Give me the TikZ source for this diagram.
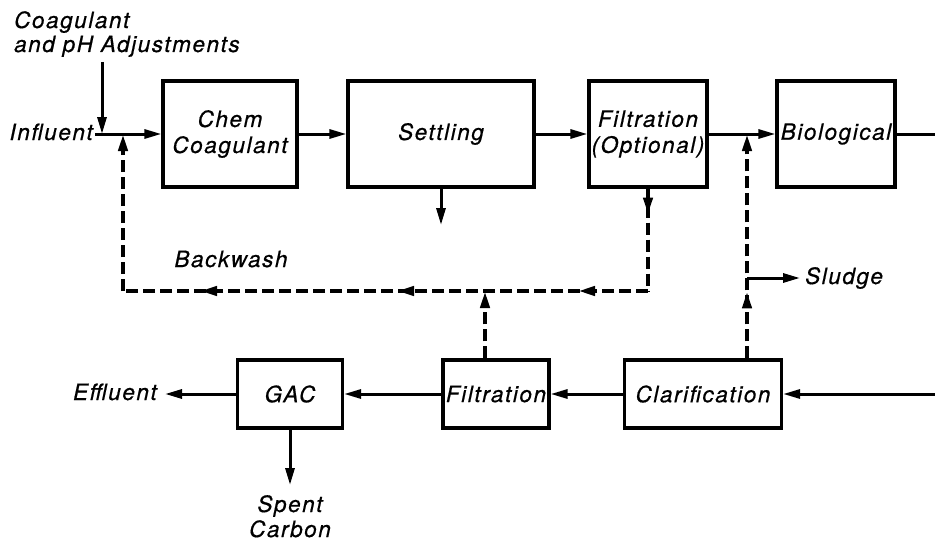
\documentclass[tikz,border=0pt]{standalone}
\usepackage{fontspec}
\setmainfont{TeX Gyre Heros}[LetterSpace=7,ItalicFeatures={FakeBold=0.6}]
\usetikzlibrary{arrows.meta,decorations.markings}
\begin{document}
\begin{tikzpicture}[x=1pt,y=-1pt,
  font=\fontsize{22.5}{26}\selectfont\itshape,
  box/.style={draw,line width=3.2pt,inner sep=0pt,align=center},
  flow/.style={line width=3pt},
  dsh/.style={line width=4pt,dash pattern=on 12pt off 5pt},
  tip/.style={-{Triangle[length=17pt,width=9pt]}},
  marr/.style={postaction={decorate,decoration={markings,mark=at position #1 with {\arrow{Triangle[length=17pt,width=9pt]}}}}},
  lbl/.style={inner sep=0pt}
]
\useasboundingbox (0,0) rectangle (935,543);

% boxes
\node[box,minimum width=134pt,minimum height=106pt] (chem) at (230,134) {Chem\\Coagulant};
\node[box,minimum width=186pt,minimum height=106pt] (settle) at (441,134) {Settling};
\node[box,minimum width=118pt,minimum height=106pt] (filtopt) at (648,134) {Filtration\\(Optional)};
\node[box,minimum width=118pt,minimum height=106pt] (bio) at (836,134) {Biological};
\node[box,minimum width=105pt,minimum height=68pt] (gac) at (290,394) {GAC};
\node[box,minimum width=106pt,minimum height=68pt] (filt) at (496,394) {Filtration};
\node[box,minimum width=157pt,minimum height=68pt] (clar) at (703,394) {Clarification};

% labels
\node[lbl,anchor=base west] (coag1) at (14,28) {Coagulant};
\node[lbl,anchor=base west] (coag2) at (14,52) {and pH Adjustments};
\node[lbl,anchor=base east] (infl) at (93,140) {Influent};
\node[lbl,anchor=base] (bw) at (231,267) {Backwash};
\node[lbl,anchor=base west] (sludge) at (805,284) {Sludge};
\node[lbl,anchor=base east] (eff) at (157,400) {Effluent};
\node[lbl,anchor=base] (spent) at (290,512) {Spent};
\node[lbl,anchor=base] (carbon) at (290,537) {Carbon};

% junction coordinates
\coordinate (coagtop) at (102,62);
\coordinate (inj) at (102,134);
\coordinate (inst) at (95,134);
\coordinate (bwret) at (123,134);
\coordinate (bwcorner) at (123,291);
\coordinate (bwright) at (648,291);
\coordinate (bwmid) at (485,291);
\coordinate (settleout) at (441,225);
\coordinate (sl) at (747,134);
\coordinate (slj) at (747,278);
\coordinate (slend) at (800,278);
\coordinate (topright) at (935,134);
\coordinate (botright) at (935,394);
\coordinate (effend) at (165,394);
\coordinate (spentend) at (290,485);

% solid flows
\draw[flow,tip] (coagtop) -- (inj);
\draw[flow,tip] (inst) -- (chem.west);
\draw[flow,tip] (chem.east) -- (settle.west);
\draw[flow,tip] (settle.east) -- (filtopt.west);
\draw[flow,tip] (filtopt.east) -- (bio.west);
\draw[flow] (bio.east) -- (topright);
\draw[flow,tip] (settle.south) -- (settleout);
\draw[flow,tip] (botright) -- (clar.east);
\draw[flow,tip] (clar.west) -- (filt.east);
\draw[flow,tip] (filt.west) -- (gac.east);
\draw[flow,tip] (gac.west) -- (effend);
\draw[flow,tip] (gac.south) -- (spentend);
\draw[flow,tip] (slj) -- (slend);

% dashed backwash / sludge
\draw[dsh,tip] (bwcorner) -- (bwret);
\draw[dsh,marr=26pt] (filtopt.south) -- (bwright);
\draw[dsh,postaction={decorate,decoration={markings,
   mark=at position 70pt with {\arrow{Triangle[length=17pt,width=9pt]}},
   mark=at position 251pt with {\arrow{Triangle[length=17pt,width=9pt]}},
   mark=at position 448pt with {\arrow{Triangle[length=17pt,width=9pt]}}}}]
  (bwright) -- (bwcorner);
\draw[dsh,tip] (filt.north -| bwmid) -- (bwmid);
\draw[dsh,tip,marr=67pt] (clar.north -| sl) -- (sl);
\end{tikzpicture}
\end{document}
